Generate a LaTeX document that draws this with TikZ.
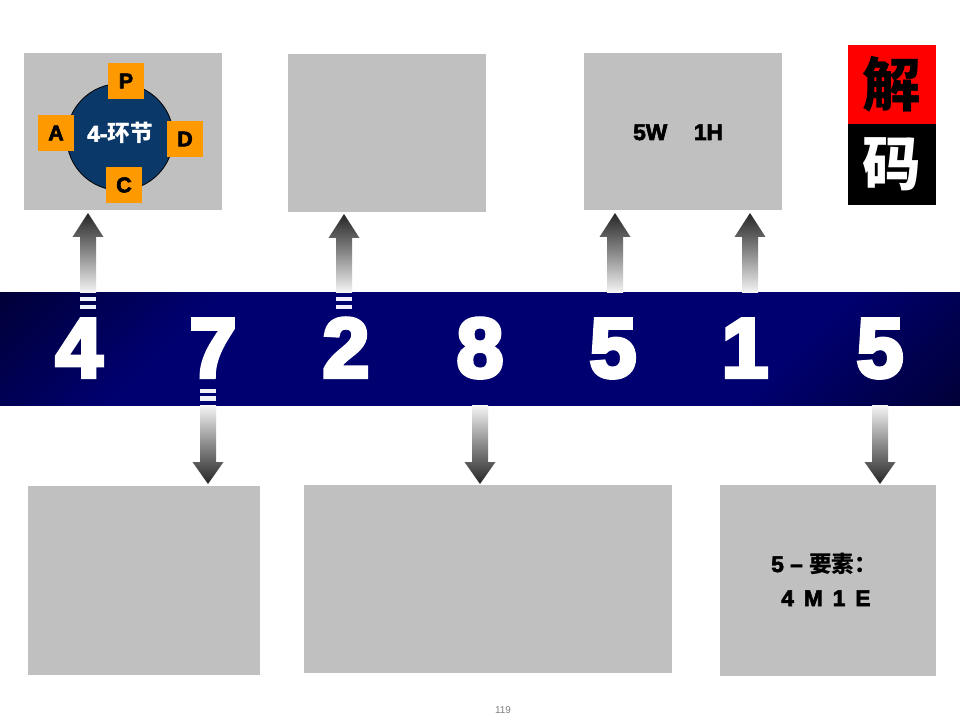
\documentclass[tikz,border=0pt]{standalone}
\usepackage{fontspec}
\setmainfont{Liberation Sans}
\newfontfamily\heavy{Liberation Sans}[UprightFont={* Bold}, FakeBold=5]
\newfontfamily\semiheavy{Liberation Sans}[UprightFont={* Bold}, FakeBold=3]
\newfontfamily\cjk{Noto Sans CJK SC}
\usetikzlibrary{calc}
\definecolor{boxgray}{HTML}{C0C0C0}
\definecolor{navyband}{HTML}{000070}
\definecolor{orangeq}{HTML}{FF9900}
\definecolor{cyclecol}{HTML}{0A3868}
\definecolor{adark}{HTML}{262626}
\definecolor{amid}{HTML}{8A8A8A}
\definecolor{alight}{HTML}{F6F6F6}
\definecolor{barwhite}{HTML}{F0F0F8}
\pgfdeclarehorizontalshading{bandshade}{100bp}{color(0bp)=(black); color(29bp)=(navyband); color(71bp)=(navyband); color(100bp)=(black)}
\newcommand\uparr[2]{\shade[top color=adark, bottom color=alight, middle color=amid]
  ($(#1)+(-8,0)$) -- ($(#2)+(-8,24)$) -- ($(#2)+(-15.5,24)$) -- (#2) -- ($(#2)+(15.5,24)$) -- ($(#2)+(8,24)$) -- ($(#1)+(8,0)$) -- cycle;}
\newcommand\dnarr[2]{\shade[top color=alight, bottom color=adark, middle color=amid]
  ($(#1)+(-8,0)$) -- ($(#2)+(-8,-22)$) -- ($(#2)+(-15.5,-22)$) -- (#2) -- ($(#2)+(15.5,-22)$) -- ($(#2)+(8,-22)$) -- ($(#1)+(8,0)$) -- cycle;}
\tikzset{
  graybox/.style={fill=boxgray, draw=none, inner sep=0pt},
  sz/.style 2 args={minimum width=#1*0.75pt, minimum height=#2*0.75pt},
  digit/.style={anchor=base, text=white, font=\heavy\fontsize{63}{63}\selectfont, inner sep=0pt},
  oq/.style={fill=orangeq, inner sep=0pt, minimum size=27pt, font=\semiheavy\fontsize{16}{16}\selectfont},
  label/.style={anchor=base west, inner sep=0pt, font=\semiheavy\fontsize{17}{17}\selectfont},
  bar/.style={fill=barwhite, draw=none}
}
\begin{document}
\begin{tikzpicture}[x=0.75pt, y=-0.75pt]
\useasboundingbox (0,0) rectangle (960,720);
\fill[white] (0,0) rectangle (960,720);

% top boxes
\node[graybox, sz={198}{157}] (t1) at (123,131.5) {};
\node[graybox, sz={198}{158}] (t2) at (387,133) {};
\node[graybox, sz={198}{157}] (t3) at (683,131.5) {};
% bottom boxes
\node[graybox, sz={232}{189}] (b1) at (144,580.5) {};
\node[graybox, sz={368}{188}] (b2) at (488,579) {};
\node[graybox, sz={216}{191}] (b3) at (828,580.5) {};

% PDCA
\node[circle, fill=cyclecol, draw=black, line width=0.6pt, minimum size=80pt, inner sep=0pt] (cyc) at (120,137) {};
\node[oq] (P) at (126,81) {P};
\node[oq] (A) at (56,133) {A};
\node[oq] (D) at (185,139) {D};
\node[oq] (C) at (124,185) {C};
\node[text=white, inner sep=0pt, font=\semiheavy\fontsize{17}{17}\selectfont] (cyct) at (120,133) {4-{\cjk\bfseries 环节}};

% decode
\node[fill=red, sz={88}{79}, inner sep=0pt, font=\cjk\bfseries\fontsize{44}{44}\selectfont] (jie) at (892,84.5) {解};
\node[fill=black, text=white, sz={88}{81}, inner sep=0pt, font=\cjk\bfseries\fontsize{44}{44}\selectfont] (ma) at (892,164.5) {码};

% texts
\node[label] (w5h1) at (633,140) {5W\hspace{20pt}1H};
\node[label] (yaosu) at (771,572) {5 – {\cjk\bfseries 要素：}};
\node[label] (mme) at (781,606) {4\hspace{7.5pt}M\hspace{7.5pt}1\hspace{7.5pt}E};

% band
\shade[shading=bandshade, shading angle=-45] (0,293) rectangle (960,405);

% digits
\node[digit] (d1) at (79,377) {4};
\node[digit] (d2) at (213,377) {7};
\node[digit] (d3) at (346,377) {2};
\node[digit] (d4) at (480,377) {8};
\node[digit] (d5) at (613,377) {5};
\node[digit] (d6) at (745,377) {1};
\node[digit] (d7) at (880,377) {5};

% arrow anchors
\coordinate (u4b) at (88,293);  \coordinate (u4t) at (88,213);
\coordinate (u2b) at (344,293); \coordinate (u2t) at (344,214);
\coordinate (u5b) at (615,293); \coordinate (u5t) at (615,213);
\coordinate (u1b) at (750,293); \coordinate (u1t) at (750,213);
\coordinate (d7b) at (208,405); \coordinate (d7t) at (208,484);
\coordinate (d8b) at (480,405); \coordinate (d8t) at (480,484);
\coordinate (d5b) at (880,405); \coordinate (d5t) at (880,484);

\uparr{u4b}{u4t}
\uparr{u2b}{u2t}
\uparr{u5b}{u5t}
\uparr{u1b}{u1t}
\dnarr{d7b}{d7t}
\dnarr{d8b}{d8t}
\dnarr{d5b}{d5t}

% bars in band
\fill[bar] (80,297) rectangle (96,301);
\fill[bar] (80,305) rectangle (96,309);
\fill[bar] (336,297) rectangle (352,301);
\fill[bar] (336,305) rectangle (352,309);
\fill[bar] (200,389) rectangle (216,393);
\fill[bar] (200,396) rectangle (216,401);

% page number
\node[text=gray, font=\fontsize{7.5}{7.5}\selectfont, inner sep=0pt] (pg) at (503,710) {119};
\end{tikzpicture}
\end{document}
